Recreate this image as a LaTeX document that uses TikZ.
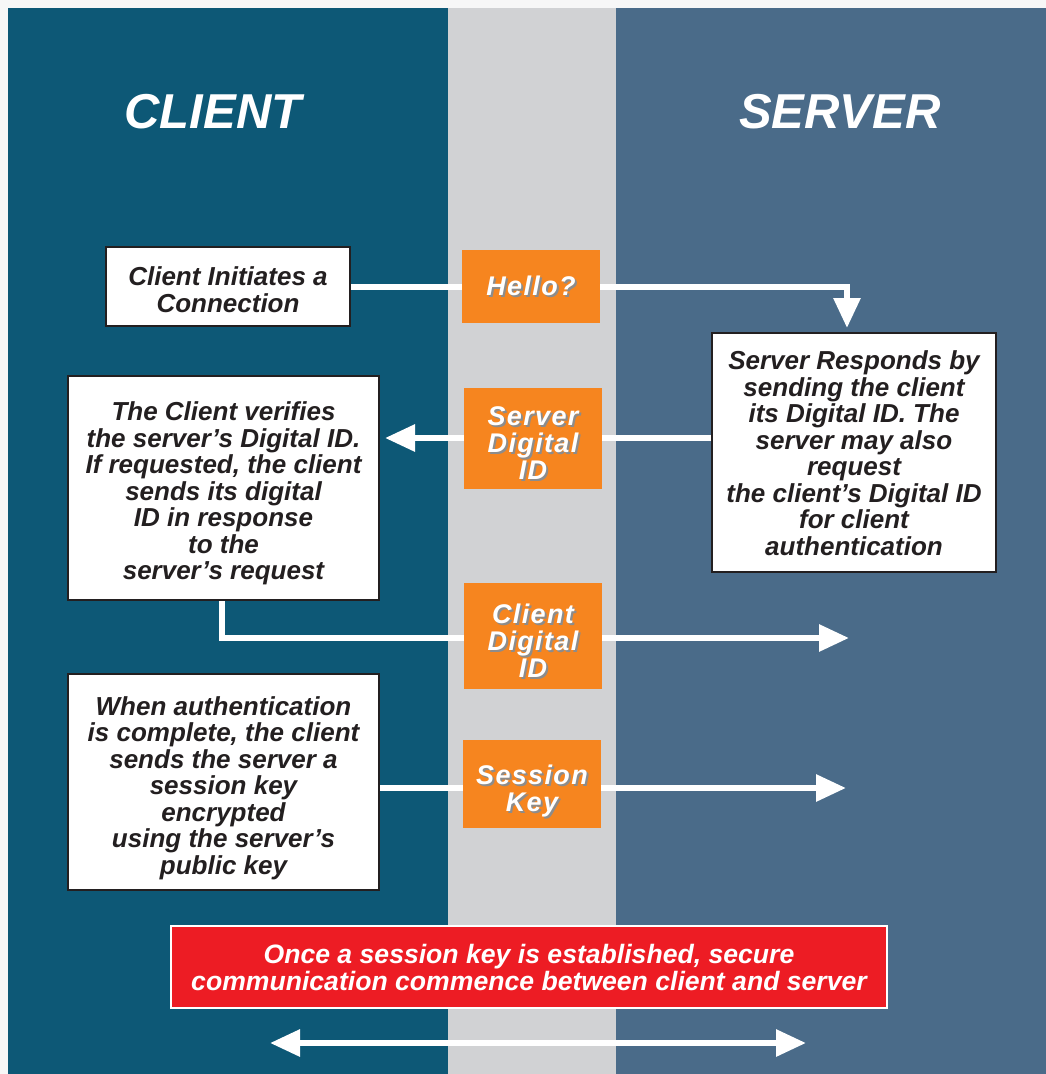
\documentclass[tikz,border=0pt]{standalone}
\usepackage{fontspec}
\setmainfont{Liberation Sans}
\newfontfamily\spacedfont[LetterSpace=5]{Liberation Sans}
\usetikzlibrary{arrows.meta}
\definecolor{clientbg}{HTML}{0D5876}
\definecolor{serverbg}{HTML}{4A6B89}
\definecolor{midbg}{HTML}{D1D2D4}
\definecolor{pagebg}{HTML}{F7F7F7}
\definecolor{orangebox}{HTML}{F6851F}
\definecolor{redbox}{HTML}{ED1C24}
\definecolor{txtdark}{HTML}{231F20}
\definecolor{shadowgray}{HTML}{8C8C8C}
\tikzset{
  whitebox/.style={draw=txtdark, line width=2pt, fill=white, inner sep=0pt},
  boxtext/.style={inner sep=0pt, align=center,
    text=txtdark, font=\fontsize{26}{26.5}\selectfont\bfseries\itshape},
  orbox/.style={fill=orangebox, draw=none, inner sep=0pt, minimum width=138pt},
  ortext/.style={inner sep=0pt, align=center, text=white,
    font=\fontsize{27}{27}\spacedfont\bfseries\itshape},
  orshadow/.style={ortext, text=shadowgray},
  flow/.style={draw=white, line width=6pt, -{Triangle[length=30pt,width=26pt]}},
  flowboth/.style={draw=white, line width=6pt, {Triangle[length=30pt,width=26pt]}-{Triangle[length=30pt,width=26pt]}},
  title/.style={text=white, font=\fontsize{49}{49}\selectfont\bfseries\itshape}
}
\begin{document}
\begin{tikzpicture}[x=1pt,y=-1pt]
\useasboundingbox (0,0) rectangle (1046,1074);
\fill[pagebg] (0,0) rectangle (1046,1074);
\fill[clientbg] (8,8) rectangle (448,1074);
\fill[midbg] (448,8) rectangle (616,1074);
\fill[serverbg] (616,8) rectangle (1046,1074);

\node[title] (tclient) at (213,112) {CLIENT};
\node[title] (tserver) at (840,112) {SERVER};

% white boxes
\node[whitebox, minimum width=244pt, minimum height=79pt] (cinit) at (228,286.5) {};
\node[whitebox, minimum width=284pt, minimum height=239pt] (sresp) at (854,452.5) {};
\node[whitebox, minimum width=311pt, minimum height=224pt] (cver) at (223.5,488) {};
\node[whitebox, minimum width=311pt, minimum height=216pt] (cauth) at (223.5,782) {};

\node[boxtext] (cinitt) at ([yshift=-3pt]cinit.center) {Client Initiates a\\Connection};
\node[boxtext] (srespt) at ([yshift=-0.5pt]sresp.center)
  {Server Responds by\\sending the client\\its Digital ID. The\\server may also\\request\\the client’s Digital ID\\for client\\authentication};
\node[boxtext] (cvert) at ([yshift=-5.5pt]cver.center)
  {The Client verifies\\the server’s Digital ID.\\If requested, the client\\sends its digital\\ID in response\\to the\\server’s request};
\node[boxtext] (cautht) at ([yshift=-6pt]cauth.center)
  {When authentication\\is complete, the client\\sends the server a\\session key\\encrypted\\using the server’s\\public key};

\coordinate (e3) at (849,638);
\coordinate (e4) at (846,788);
\coordinate (da) at (270,1043);
\coordinate (db) at (806,1043);

% connectors
\draw[flow] (cinit.east) -| ([xshift=-7pt,yshift=4pt]sresp.north);
\draw[flow] (sresp.west |- 0,438) -- ([xshift=5pt]cver.east |- 0,438);
\draw[flow] ([xshift=-1.5pt]cver.south) |- (e3);
\draw[flow] (cauth.east |- e4) -- (e4);
\draw[flowboth] (da) -- (db);

% orange boxes
\node[orbox, minimum height=73pt] (hello) at (531,286.5) {};
\node[orbox, minimum height=101pt] (sdid) at (533,438.5) {};
\node[orbox, minimum height=106pt] (cdid) at (533,636) {};
\node[orbox, minimum height=88pt] (sess) at (532,784) {};

\node[orshadow] (hellos) at ([xshift=2pt,yshift=-1pt]hello.center) {Hello?};
\node[ortext] (hellot) at ([yshift=1pt]hello.center) {Hello?};
\node[orshadow] (sdids) at ([xshift=2pt,yshift=-7pt]sdid.center) {Server\\Digital\\ID};
\node[ortext] (sdidt) at ([yshift=-5pt]sdid.center) {Server\\Digital\\ID};
\node[orshadow] (cdids) at ([xshift=2pt,yshift=-6.5pt]cdid.center) {Client\\Digital\\ID};
\node[ortext] (cdidt) at ([yshift=-4.5pt]cdid.center) {Client\\Digital\\ID};
\node[orshadow] (sesss) at ([xshift=2pt,yshift=-9pt]sess.center) {Session\\Key};
\node[ortext] (sesst) at ([yshift=-7pt]sess.center) {Session\\Key};

% red box
\node[fill=redbox, draw=white, line width=1.5pt, minimum width=716pt, minimum height=82pt,
  inner sep=0pt, align=center, text=white, font=\fontsize{26.6}{27}\selectfont\bfseries\itshape]
  (secure) at (529,967)
  {Once a session key is established, secure\\communication commence between client and server};
\end{tikzpicture}
\end{document}
